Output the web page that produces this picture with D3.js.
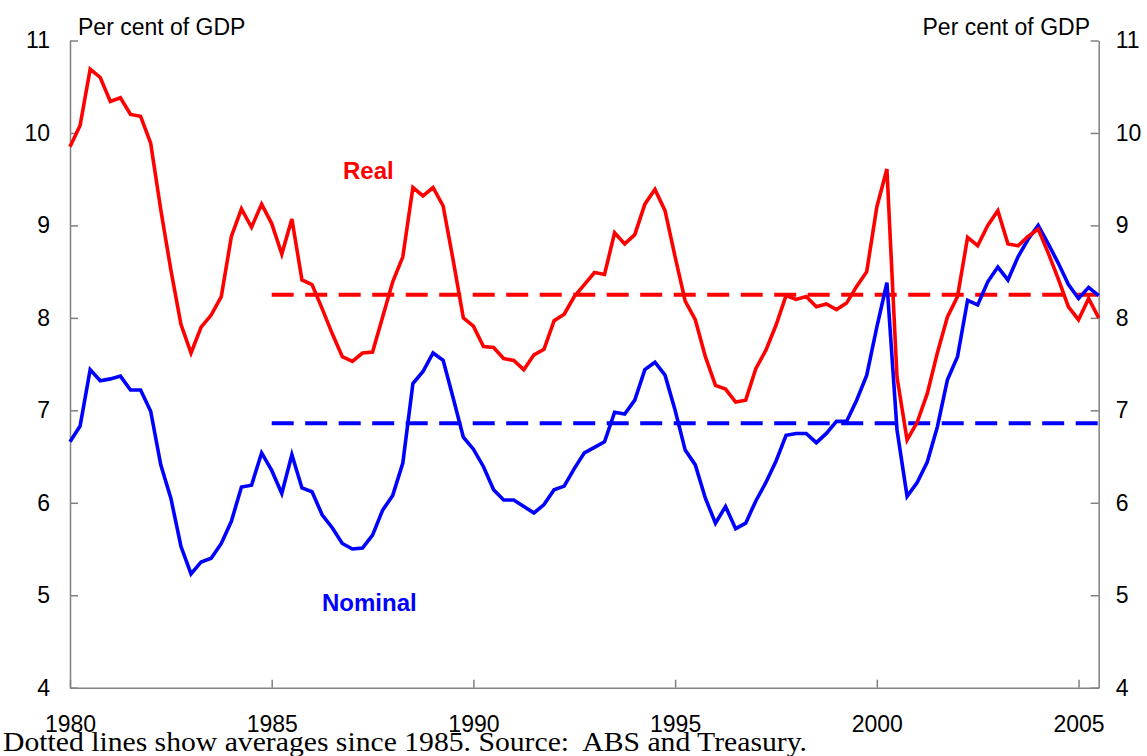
<!DOCTYPE html>
<html>
<head>
<meta charset="utf-8">
<script src="https://cdn.jsdelivr.net/npm/d3@7"></script>
<style>
    body { margin: 0; background: #fff; }
    svg { display: block; }
    .axis path, .axis line { stroke: #808080; stroke-width: 1.5px; }
    .axis text { font-family: "Liberation Sans", Arial, sans-serif; fill: #000; }
</style>
</head>
<body>
<svg width="1147" height="756"></svg>
<script>
// quarterly, 1980 Q1 onwards
var startYear = 1980;
var realValues = [
    9.85, 10.08, 10.69, 10.60, 10.34, 10.38, 10.20, 10.18, 9.89, 9.17,
    8.52, 7.93, 7.62, 7.90, 8.03, 8.23, 8.88, 9.18, 8.98, 9.23,
    9.02, 8.69, 9.07, 8.41, 8.36, 8.10, 7.83, 7.58, 7.53, 7.62,
    7.63, 8.01, 8.39, 8.66, 9.41, 9.32, 9.41, 9.21, 8.62, 8.00,
    7.91, 7.69, 7.68, 7.56, 7.54, 7.44, 7.60, 7.66, 7.97, 8.04,
    8.23, 8.36, 8.49, 8.47, 8.92, 8.80, 8.90, 9.23, 9.39, 9.16,
    8.66, 8.18, 7.98, 7.58, 7.27, 7.23, 7.09, 7.11, 7.45, 7.65,
    7.92, 8.24, 8.20, 8.23, 8.12, 8.15, 8.09, 8.16, 8.34, 8.50,
    9.20, 9.61, 7.36, 6.68, 6.87, 7.18, 7.62, 8.01, 8.23, 8.87,
    8.78, 9.00, 9.16, 8.80, 8.78, 8.88, 8.96, 8.70, 8.42, 8.12,
    7.98, 8.21, 8.00
];
var nominalValues = [
    6.66, 6.83, 7.44, 7.32, 7.34, 7.37, 7.22, 7.22, 6.99, 6.41,
    6.05, 5.53, 5.23, 5.36, 5.40, 5.56, 5.80, 6.17, 6.19, 6.54,
    6.35, 6.10, 6.52, 6.16, 6.12, 5.87, 5.73, 5.56, 5.50, 5.51,
    5.65, 5.92, 6.08, 6.43, 7.29, 7.42, 7.62, 7.54, 7.13, 6.71,
    6.58, 6.39, 6.14, 6.03, 6.03, 5.96, 5.89, 5.98, 6.14, 6.18,
    6.37, 6.54, 6.60, 6.66, 6.98, 6.96, 7.11, 7.44, 7.52, 7.38,
    7.00, 6.57, 6.41, 6.05, 5.78, 5.96, 5.72, 5.78, 6.02, 6.22,
    6.45, 6.73, 6.75, 6.75, 6.65, 6.75, 6.88, 6.88, 7.11, 7.38,
    7.90, 8.38, 6.79, 6.07, 6.22, 6.44, 6.82, 7.33, 7.58, 8.19,
    8.14, 8.39, 8.55, 8.41, 8.66, 8.85, 9.00, 8.80, 8.59, 8.36,
    8.21, 8.33, 8.24
];
var averageStart = 1985;
var realAverage = 8.25;
var nominalAverage = 6.86;
var yearTicks = [1980, 1985, 1990, 1995, 2000, 2005];
var valueTicks = [4, 5, 6, 7, 8, 9, 10, 11];

(function (d3) {
    'use strict';

    var svg = d3.select('svg'),
        margin = { top: 40.5, right: 48.3, bottom: 68.3, left: 70 },
        width = svg.attr('width') - margin.left - margin.right,
        height = svg.attr('height') - margin.top - margin.bottom;

    var lastYear = startYear + (realValues.length - 1) / 4;

    var x = d3.scaleLinear().domain([startYear, lastYear]).range([0, width]),
        y = d3.scaleLinear().domain([4, 11]).range([height, 0]);

    var g = svg.append('g')
        .attr('transform', 'translate(' + margin.left + ',' + margin.top + ')');

    function toPoints(values) {
        return values.map(function (v, i) { return { year: startYear + i / 4, value: v }; });
    }

    var line = d3.line()
        .x(function (d) { return x(d.year); })
        .y(function (d) { return y(d.value); });

    // axes
    g.append('g')
        .attr('class', 'axis axis--x')
        .attr('transform', 'translate(0,' + height + ')')
        .call(d3.axisTop(x).tickValues(yearTicks).tickSize(8).tickSizeOuter(0).tickFormat(d3.format('d')))
        .call(function (a) {
            a.selectAll('text')
                .attr('y', 44)
                .attr('dy', 0)
                .style('font-size', '23px');
        });

    g.append('g')
        .attr('class', 'axis axis--y')
        .call(d3.axisRight(y).tickValues(valueTicks).tickSize(8).tickSizeOuter(0).tickFormat(d3.format('d')))
        .call(function (a) {
            a.selectAll('text')
                .attr('x', -20)
                .attr('text-anchor', 'end')
                .style('font-size', '23px');
        });

    g.append('g')
        .attr('class', 'axis axis--y2')
        .attr('transform', 'translate(' + width + ',0)')
        .call(d3.axisLeft(y).tickValues(valueTicks).tickSize(8).tickSizeOuter(0).tickFormat(d3.format('d')))
        .call(function (a) {
            a.selectAll('text')
                .attr('x', 17)
                .attr('text-anchor', 'start')
                .style('font-size', '23px');
        });

    // averages since 1985
    [[realAverage, '#ff0000'], [nominalAverage, '#0000ff']].forEach(function (avg) {
        g.append('line')
            .attr('x1', x(averageStart))
            .attr('x2', x(lastYear))
            .attr('y1', y(avg[0]))
            .attr('y2', y(avg[0]))
            .attr('stroke', avg[1])
            .attr('stroke-width', 4)
            .attr('stroke-dasharray', '22,11.5');
    });

    g.append('path')
        .datum(toPoints(nominalValues))
        .attr('fill', 'none')
        .attr('stroke', '#0000ff')
        .attr('stroke-width', 3.6)
        .attr('stroke-linejoin', 'miter')
        .attr('d', line);

    g.append('path')
        .datum(toPoints(realValues))
        .attr('fill', 'none')
        .attr('stroke', '#ff0000')
        .attr('stroke-width', 3.6)
        .attr('stroke-linejoin', 'miter')
        .attr('d', line);

    // series labels
    svg.append('text')
        .attr('x', 343).attr('y', 179)
        .style('font', 'bold 24px "Liberation Sans", Arial, sans-serif')
        .attr('fill', '#ff0000')
        .text('Real');

    svg.append('text')
        .attr('x', 322).attr('y', 611)
        .style('font', 'bold 24px "Liberation Sans", Arial, sans-serif')
        .attr('fill', '#0000ff')
        .text('Nominal');

    // units
    svg.append('text')
        .attr('x', 78).attr('y', 35)
        .style('font', '23px "Liberation Sans", Arial, sans-serif')
        .text('Per cent of GDP');

    svg.append('text')
        .attr('x', 1090).attr('y', 35)
        .attr('text-anchor', 'end')
        .style('font', '23px "Liberation Sans", Arial, sans-serif')
        .text('Per cent of GDP');

    svg.append('text')
        .attr('x', 3).attr('y', 751)
        .attr('textLength', 804)
        .attr('lengthAdjust', 'spacingAndGlyphs')
        .style('font', '27px "Liberation Serif", "Times New Roman", serif')
        .style('white-space', 'pre')
        .text('Dotted lines show averages since 1985. Source:  ABS and Treasury.');
})(window.d3);
</script>
</body>
</html>
